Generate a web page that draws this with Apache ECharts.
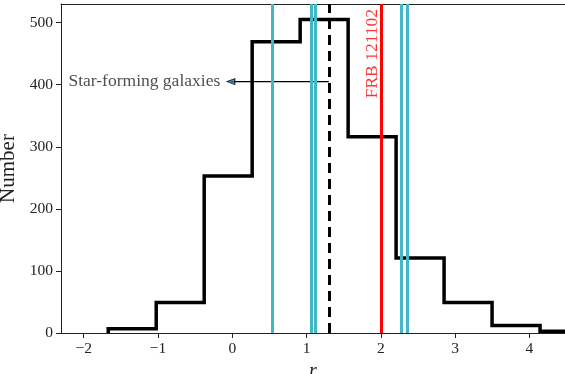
<!DOCTYPE html>
<html>
<head>
<meta charset="utf-8">
<script src="https://cdn.jsdelivr.net/npm/echarts@6/dist/echarts.min.js"></script>
<style>
  html, body { margin: 0; padding: 0; background: #fff; }
  #chart { width: 565px; height: 374px; }
</style>
</head>
<body>
<div id="chart"></div>
<script>
// histogram of r (bin edges + counts)
const binEdges = [-1.67, -1.024, -0.378, 0.268, 0.914, 1.56, 2.206, 2.852, 3.498, 4.144, 4.79];
const binCounts = [7, 49, 253, 469, 505, 316, 121, 49, 12, 3];

const xTicks = [-2, -1, 0, 1, 2, 3, 4];
const yTicks = [0, 100, 200, 300, 400, 500];

const hostLines = [0.54, 1.06, 1.12, 2.27, 2.35];
const medianLine = 1.3;
const frbLine = 2.0;
const frbLabel = 'FRB 121102';
const frbLabelPos = [1.89, 450];

const annotText = 'Star-forming galaxies';
const annotY = 405;
const annotFrom = 1.3;
const annotTo = -0.02;

const FONT = "'Liberation Serif', 'DejaVu Serif', serif";

// build step outline from edges/counts
const stepPts = [[binEdges[0], 0]];
for (let i = 0; i < binCounts.length; i++) {
  stepPts.push([binEdges[i], binCounts[i]]);
  stepPts.push([binEdges[i + 1], binCounts[i]]);
}
stepPts.push([binEdges[binEdges.length - 1], 0]);

const fmtMinus = v => (v < 0 ? '\u2212' + Math.abs(v) : String(v));

const chart = echarts.init(document.getElementById('chart'), null, { renderer: 'canvas' });

const vline = (x, color, width, type) => ({
  xAxis: x,
  lineStyle: { color: color, width: width, type: type || 'solid' }
});

const option = {
  animation: false,
  backgroundColor: '#fff',
  grid: { left: 61, right: 0, top: 4, bottom: 41, outerBoundsMode: 'none', containLabel: false },
  xAxis: [{
    type: 'value',
    min: -2.306,
    max: 4.48,
    name: 'r',
    nameLocation: 'middle',
    nameGap: 21,
    nameTextStyle: { fontFamily: FONT, fontStyle: 'italic', fontSize: 20, color: '#222' },
    axisLine: { show: true, onZero: false, lineStyle: { color: '#222', width: 1 } },
    axisTick: { show: true, inside: false, length: 5, customValues: xTicks, lineStyle: { color: '#222' } },
    axisLabel: { fontFamily: FONT, fontSize: 15.5, color: '#222', margin: 8, customValues: xTicks, formatter: fmtMinus },
    splitLine: { show: false }
  }, {
    type: 'value',
    position: 'top',
    min: -2.306,
    max: 4.48,
    axisLine: { show: true, onZero: false, lineStyle: { color: '#222', width: 1 } },
    axisTick: { show: false },
    axisLabel: { show: false },
    splitLine: { show: false }
  }],
  yAxis: {
    type: 'value',
    min: 0,
    max: 530,
    name: 'Number',
    nameLocation: 'middle',
    nameGap: 31,
    nameTextStyle: { fontFamily: FONT, fontSize: 21, color: '#222' },
    axisLine: { show: true, onZero: false, lineStyle: { color: '#222', width: 1 } },
    axisTick: { show: true, length: 5, customValues: yTicks, lineStyle: { color: '#222' } },
    axisLabel: { fontFamily: FONT, fontSize: 15.5, color: '#222', margin: 8, customValues: yTicks },
    splitLine: { show: false }
  },
  series: [
    {
      type: 'line',
      data: stepPts,
      showSymbol: false,
      symbol: 'none',
      lineStyle: { color: '#000', width: 3.5, join: 'miter' },
      clip: true,
      z: 2
    },
    {
      type: 'line',
      data: [],
      z: 3,
      markLine: {
        silent: true,
        symbol: ['none', 'none'],
        label: { show: false },
        data: hostLines.map(x => vline(x, '#43b7c6', 3))
          .concat([vline(medianLine, '#000', 3, [10, 6]), vline(frbLine, '#ff0000', 3)])
      }
    },
    {
      type: 'line',
      data: [[annotFrom, annotY], [annotTo, annotY]],
      symbol: 'none',
      lineStyle: { color: '#000', width: 1.2 },
      z: 4
    },
    {
      type: 'scatter',
      data: [[annotTo, annotY]],
      symbol: 'triangle',
      symbolSize: [6, 8],
      symbolRotate: 90,
      itemStyle: { color: '#1f77b4', borderColor: '#000', borderWidth: 1 },
      label: {
        show: true, position: 'left', distance: 6,
        formatter: annotText,
        fontFamily: FONT, fontSize: 17.5, color: '#222'
      },
      z: 5
    },
    {
      type: 'scatter',
      data: [frbLabelPos],
      symbolSize: 1,
      itemStyle: { color: 'rgba(0,0,0,0)' },
      label: {
        show: true, position: 'inside', rotate: 90,
        formatter: frbLabel,
        fontFamily: FONT, fontSize: 17.5, color: '#ff0000'
      },
      z: 5
    }
  ]
};

chart.setOption(option);
</script>
</body>
</html>
